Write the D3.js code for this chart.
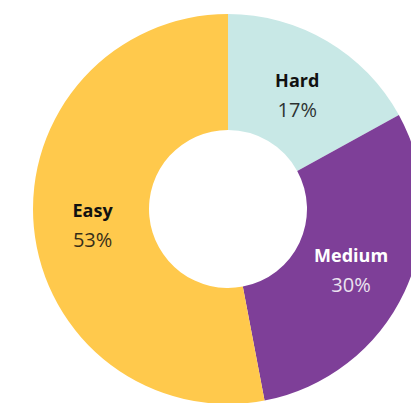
<!DOCTYPE html>
<html lang="en">
<head>
    <meta charset="UTF-8">
    <title>Difficulty share</title>
    <script src="https://d3js.org/d3.v7.min.js"></script>
    <style>
        body { margin: 0; background: #fff; overflow: hidden; }
        svg { display: block; font-family: "Open Sans", "Noto Sans", sans-serif; }
    </style>
</head>
<body>
    <svg id="chart" width="411" height="403"></svg>
    <script>
        const categories = ["Hard", "Medium", "Easy"];
        const shares = [17, 30, 53];
        const sliceColors = ["#c8e8e6", "#7e3f98", "#ffc94c"];
        const labelColors = ["#111", "#fff", "#111"];

        const width = 411, height = 403;
        const cx = 228, cy = 209;
        const outerR = 195, innerR = 79;

        const data = categories.map((c, i) => ({ name: c, value: shares[i], color: sliceColors[i], text: labelColors[i] }));

        const pie = d3.pie().value(d => d.value).sort(null);
        const arc = d3.arc().innerRadius(innerR).outerRadius(outerR);
        const labelArc = d3.arc().innerRadius(136).outerRadius(136);

        const svg = d3.select("#chart");
        const g = svg.append("g").attr("transform", `translate(${cx},${cy})`);

        const slices = g.selectAll("g.slice")
            .data(pie(data))
            .enter().append("g")
            .attr("class", "slice");

        slices.append("path")
            .attr("d", arc)
            .attr("fill", d => d.data.color);

        // two-line label: bold name, then percentage
        const labels = slices.append("text")
            .attr("transform", d => `translate(${labelArc.centroid(d)})`)
            .attr("text-anchor", "middle")
            .attr("fill", d => d.data.text);

        labels.append("tspan")
            .attr("x", 0)
            .attr("y", -5)
            .attr("font-size", 18)
            .attr("font-weight", "bold")
            .text(d => d.data.name);

        labels.append("tspan")
            .attr("x", 0)
            .attr("y", 25)
            .attr("font-size", 20)
            .attr("opacity", 0.85)
            .text(d => d.data.value + "%");
    </script>
</body>
</html>
